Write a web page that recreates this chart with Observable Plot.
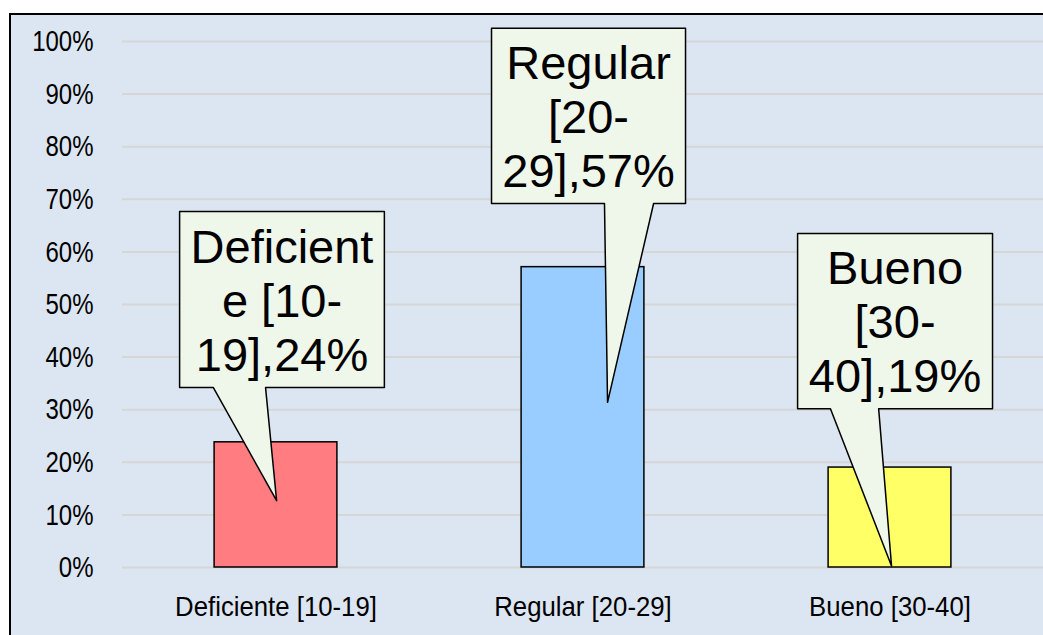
<!DOCTYPE html>
<html>
<head>
<meta charset="utf-8">
<script src="https://cdn.jsdelivr.net/npm/d3@7"></script>
<script src="https://cdn.jsdelivr.net/npm/@observablehq/plot@0.6"></script>
<style>
  html, body { margin: 0; padding: 0; background: #ffffff; overflow: hidden; width: 1043px; height: 635px; }
  #frame { position: absolute; left: 9px; top: 13px; width: 1100px; height: 700px;
           border-left: 2px solid #000; border-top: 2px solid #000; background: #dce6f2; }
  #chart { position: absolute; left: 0; top: 0; }
</style>
</head>
<body>
<div id="frame"></div>
<div id="chart"></div>
<script>
// ---- data ----
const categories = ["Deficiente [10-19]", "Regular [20-29]", "Bueno [30-40]"];
const values = [0.238, 0.571, 0.190];
const barColors = ["#ff7c80", "#99ccff", "#ffff66"];
const calloutLabels = ["Deficient\ne [10-\n19],24%", "Regular\n[20-\n29],57%", "Bueno\n[30-\n40],19%"];
const yTicks = [0, 0.1, 0.2, 0.3, 0.4, 0.5, 0.6, 0.7, 0.8, 0.9, 1];

// ---- callout placement (band-relative x, value-unit y) ----
const calloutLayout = [
  {x1: 0.186, x2: 0.853, top: 0.677, bot: 0.342, p1: 0.296, p2: 0.466, tipX: 0.502, tipY: 0.127},
  {x1: 0.202, x2: 0.834, top: 1.025, bot: 0.692, p1: 0.570, p2: 0.730, tipX: 0.580, tipY: 0.314},
  {x1: 0.199, x2: 0.834, top: 0.635, bot: 0.302, p1: 0.306, p2: 0.463, tipX: 0.505, tipY: 0.003}
];

const bars = categories.map((c, i) => ({i, c, v: values[i], color: barColors[i]}));

const calloutPts = [];
const calloutText = [];
calloutLayout.forEach((L, i) => {
  const pts = [
    [L.x1, L.top], [L.x2, L.top], [L.x2, L.bot], [L.p2, L.bot],
    [L.tipX, L.tipY], [L.p1, L.bot], [L.x1, L.bot]
  ];
  pts.forEach(([x, y]) => calloutPts.push({id: i, x: i + x, y}));
  calloutText.push({x: i + (L.x1 + L.x2) / 2, y: (L.top + L.bot) / 2, t: calloutLabels[i]});
});

const plot = Plot.plot({
  width: 1043,
  height: 635,
  marginLeft: 122,
  marginRight: 0,
  marginTop: 41,
  marginBottom: 68,
  style: {background: "transparent", fontFamily: "'Liberation Sans', Arial, sans-serif", color: "#000"},
  x: {type: "linear", domain: [0, 3]},
  y: {domain: [0, 1]},
  marks: [
    Plot.gridY(yTicks, {stroke: "#d6d6d6", strokeOpacity: 1, strokeWidth: 2}),
    Plot.rect(bars, {x1: d => d.i + 0.3, x2: d => d.i + 0.7, y1: 0, y2: "v", fill: "color", stroke: "#000", strokeWidth: 1.5}),
    Plot.line(calloutPts, {x: "x", y: "y", z: "id", curve: "linear-closed", fill: "#eff6ea", stroke: "#000", strokeWidth: 1.5}),
    Plot.text(calloutText, {x: "x", y: "y", text: "t", fontSize: 47, lineHeight: 1.15, fill: "#000", textAnchor: "middle"}),
    Plot.axisY({ticks: yTicks, tickFormat: d3.format(".0%"), tickSize: 0, tickPadding: 29, fontSize: 30}),
    Plot.axisX({ticks: [0.5, 1.5, 2.5], tickFormat: d => categories[Math.floor(d)], tickSize: 0, tickPadding: 29, fontSize: 28, label: null})
  ]
});

document.getElementById("chart").appendChild(plot);

// narrow the axis tick labels horizontally about their anchor point
const NS = "http://www.w3.org/2000/svg";
function squeeze(sel, sx, anchor) {
  const sr = plot.getBoundingClientRect();
  plot.querySelectorAll(sel).forEach(t => {
    const parent = t.parentNode;
    const ctm = parent.getCTM();
    const r = t.getBoundingClientRect();
    const axRoot = anchor === "end" ? r.right - sr.left : (r.left + r.right) / 2 - sr.left;
    const ax = axRoot - (ctm ? ctm.e : 0);
    const g = document.createElementNS(NS, "g");
    g.setAttribute("transform", `translate(${ax},0) scale(${sx},1) translate(${-ax},0)`);
    parent.insertBefore(g, t);
    g.appendChild(t);
  });
}
squeeze('g[aria-label="y-axis tick label"] text', 0.8, "end");
squeeze('g[aria-label="x-axis tick label"] text', 0.92, "middle");
</script>
</body>
</html>
